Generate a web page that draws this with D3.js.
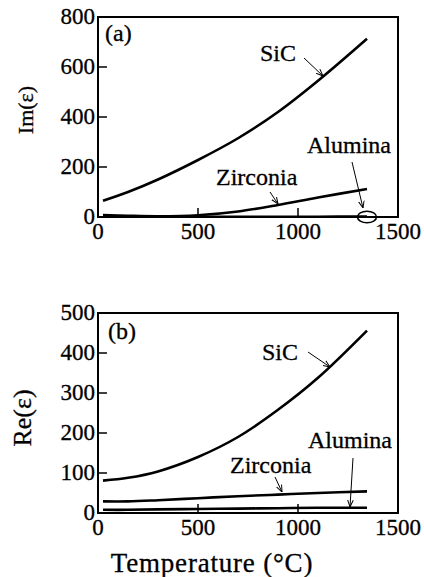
<!DOCTYPE html>
<html>
<head>
<meta charset="utf-8">
<script src="https://cdn.jsdelivr.net/npm/d3@7"></script>
<style>
  body { margin: 0; background: #fff; }
  text { stroke: #000; stroke-width: 0.3px; }
</style>
</head>
<body>
<div id="chart"></div>
<script>
var temps = [25, 150, 300, 500, 700, 900, 1100, 1345];

// (a) imaginary part
var imSiC      = [65, 100, 150, 228, 315, 420, 545, 713];
var imZirconia = [8, 5, 3, 7, 22, 48, 78, 112];
var imAlumina  = [1, 1, 1, 1, 1, 1, 1, 2];

// (b) real part
var reSiC      = [81, 88, 104, 140, 190, 258, 338, 456];
var reZirconia = [29, 29, 32, 37, 42, 46, 50, 54];
var reAlumina  = [8, 8, 9, 10, 11, 12, 13, 13];

var xTicks = [0, 500, 1000, 1500];
var imTicks = [0, 200, 400, 600, 800];
var reTicks = [0, 100, 200, 300, 400, 500];

var serif = "'Liberation Serif', 'Times New Roman', Times, 'DejaVu Serif', serif";

var W = 424, H = 577;
var svg = d3.select("#chart").append("svg")
    .attr("width", W)
    .attr("height", H)
    .attr("font-family", serif)
    .style("font-family", serif);

var x = d3.scaleLinear().domain([0, 1500]).range([98, 398]);

var defs = svg.append("defs");
defs.append("marker")
    .attr("id", "arrow")
    .attr("viewBox", "0 0 10 10")
    .attr("refX", 10).attr("refY", 5)
    .attr("markerWidth", 7).attr("markerHeight", 7)
    .attr("markerUnits", "userSpaceOnUse")
    .attr("orient", "auto")
    .append("path")
    .attr("d", "M0,1 L10,5 L0,9")
    .style("fill", "none")
    .style("stroke", "#000")
    .style("stroke-width", 1.4);

// draw one panel
function drawPanel(opt) {
    var y = d3.scaleLinear().domain([0, opt.max]).range([opt.bottom, opt.top]);
    var g = svg.append("g");

    // frame
    g.append("rect")
        .attr("x", x(0))
        .attr("y", y(opt.max))
        .attr("width", x(1500) - x(0))
        .attr("height", y(0) - y(opt.max))
        .style("fill", "none")
        .style("stroke", "#000")
        .style("stroke-width", 2);

    // inner tick marks
    opt.yTicks.filter(function(d) { return d > 0 && d < opt.max; }).forEach(function(d) {
        g.append("line")
            .attr("x1", x(0)).attr("x2", x(0) + 9)
            .attr("y1", y(d)).attr("y2", y(d))
            .style("stroke", "#000").style("stroke-width", 1.5);
    });
    xTicks.filter(function(d) { return d > 0 && d < 1500; }).forEach(function(d) {
        g.append("line")
            .attr("x1", x(d)).attr("x2", x(d))
            .attr("y1", y(0)).attr("y2", y(0) - 9)
            .style("stroke", "#000").style("stroke-width", 1.5);
    });

    // tick labels
    g.selectAll(".ylab")
        .data(opt.yTicks)
        .enter().append("text")
        .attr("class", "ylab")
        .attr("x", x(0) - 3)
        .attr("y", function(d) { return y(d) + 7; })
        .attr("text-anchor", "end")
        .style("font-size", "23px")
        .text(String);

    g.selectAll(".xlab")
        .data(xTicks)
        .enter().append("text")
        .attr("class", "xlab")
        .attr("x", function(d) { return x(d); })
        .attr("y", y(0) + 22)
        .attr("text-anchor", "middle")
        .style("font-size", "23px")
        .text(String);

    // axis title
    g.append("text")
        .attr("transform", "translate(" + opt.titleX + "," + opt.titleY + ")rotate(-90)")
        .attr("text-anchor", "middle")
        .attr("dy", "0.35em")
        .style("font-size", opt.titleSize + "px")
        .text(opt.title);

    // curves
    var line = d3.line()
        .x(function(d, i) { return x(temps[i]); })
        .y(function(d) { return y(d); })
        .curve(d3.curveCatmullRom);

    opt.series.forEach(function(s) {
        g.append("path")
            .attr("d", line(s))
            .style("fill", "none")
            .style("stroke", "#000")
            .style("stroke-width", 2.6);
    });

    // panel letter
    g.append("text")
        .attr("x", opt.letterX)
        .attr("y", opt.letterY)
        .style("font-size", "24px")
        .text(opt.letter);

    // labels with arrows
    opt.notes.forEach(function(n) {
        g.append("text")
            .attr("x", n.x)
            .attr("y", n.y)
            .style("font-size", "24px")
            .text(n.text);
        g.append("line")
            .attr("x1", n.a[0]).attr("y1", n.a[1])
            .attr("x2", n.a[2]).attr("y2", n.a[3])
            .attr("marker-end", "url(#arrow)")
            .style("stroke", "#000")
            .style("stroke-width", 1);
    });

    return { g: g, y: y };
}

var pa = drawPanel({
    max: 800, top: 17, bottom: 217,
    yTicks: imTicks,
    series: [imSiC, imZirconia, imAlumina],
    title: "Im(\u03b5)", titleX: 25, titleY: 110, titleSize: 22,
    letter: "(a)", letterX: 105, letterY: 41,
    notes: [
        { text: "SiC", x: 260, y: 61, a: [304, 58, 323, 76] },
        { text: "Zirconia", x: 216, y: 185, a: [270, 192, 278, 204] },
        { text: "Alumina", x: 307, y: 153, a: [352, 162, 363, 208] }
    ]
});

// circle around the alumina curve end
pa.g.append("ellipse")
    .attr("cx", x(1345))
    .attr("cy", pa.y(0))
    .attr("rx", 9.5)
    .attr("ry", 5.8)
    .style("fill", "none")
    .style("stroke", "#000")
    .style("stroke-width", 1.6);

drawPanel({
    max: 500, top: 313, bottom: 513,
    yTicks: reTicks,
    series: [reSiC, reZirconia, reAlumina],
    title: "Re(\u03b5)", titleX: 22, titleY: 418, titleSize: 26,
    letter: "(b)", letterX: 108, letterY: 339,
    notes: [
        { text: "SiC", x: 262, y: 360, a: [308, 352, 330, 367] },
        { text: "Zirconia", x: 230, y: 473, a: [275, 477, 282, 492] },
        { text: "Alumina", x: 308, y: 448, a: [353, 458, 350, 507] }
    ]
});

svg.append("text")
    .attr("x", 212)
    .attr("y", 572)
    .attr("text-anchor", "middle")
    .style("font-size", "27px")
    .style("letter-spacing", "0.8px")
    .text("Temperature (\u00b0C)");
</script>
</body>
</html>
